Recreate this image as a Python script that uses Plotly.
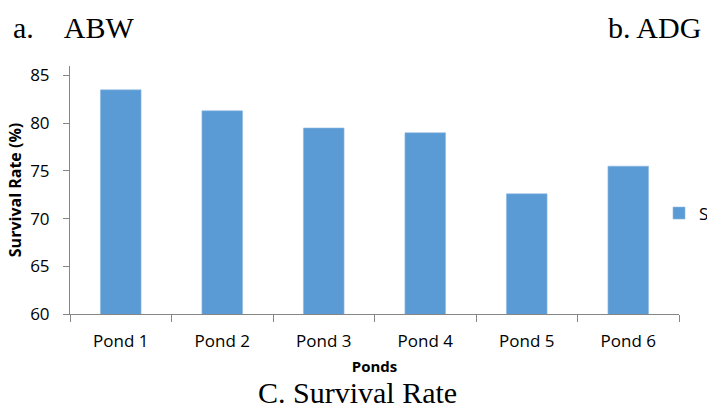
import plotly.graph_objects as go

ponds = ["Pond 1", "Pond 2", "Pond 3", "Pond 4", "Pond 5", "Pond 6"]
survival_rate = [83.5, 81.3, 79.5, 79.0, 72.6, 75.5]
y_ticks = [60, 65, 70, 75, 80, 85]
series_name = "SR"

W, H = 707, 410
L, R, T, B = 70, 28, 66, 96
pw, ph = W - L - R, H - T - B

def px(x):
    return (x - L) / pw

def py(y):
    return (H - B - y) / ph

fig = go.Figure()
fig.add_trace(go.Bar(
    x=ponds, y=survival_rate, name=series_name,
    marker=dict(color="#5B9BD5", line=dict(color="#8DB8E3", width=0.6)),
    showlegend=True,
))

axis_font = dict(family="Open Sans, Noto Sans, sans-serif", size=17, color="#000000")
title_font = dict(family="Open Sans, Noto Sans, sans-serif", size=16, color="#000000")
serif = dict(family="Liberation Serif, Times New Roman, serif", size=30, color="#000000")

fig.update_layout(
    width=W, height=H,
    margin=dict(l=L, r=R, t=T, b=B, autoexpand=False),
    paper_bgcolor="white", plot_bgcolor="white",
    bargap=0.6,
    font=axis_font,
    showlegend=True,
    legend=dict(x=px(659), y=py(213.5), xanchor="left", yanchor="middle",
                font=axis_font, bgcolor="rgba(0,0,0,0)", itemwidth=30),
    xaxis=dict(
        showline=True, linecolor="#868686", linewidth=1,
        ticks="outside", ticklen=7, tickcolor="#868686",
        tickson="boundaries", showgrid=False,
        tickfont=axis_font, ticklabelstandoff=12,
        title=dict(text="<b>Ponds</b>", font=dict(family="Open Sans, sans-serif", size=15), standoff=10),
    ),
    yaxis=dict(
        range=[60, 86], tickvals=y_ticks, ticktext=[str(v) for v in y_ticks],
        showline=True, linecolor="#868686", linewidth=1,
        ticks="outside", ticklen=6, tickcolor="#868686",
        showgrid=False, zeroline=False,
        tickfont=axis_font, ticklabelstandoff=10,
        title=dict(text="<b>Survival Rate (%)</b>", font=title_font, standoff=4),
    ),
    annotations=[
        dict(text="a.\u00a0\u00a0\u00a0\u00a0ABW", xref="paper", yref="paper", x=px(11), y=py(27),
             xanchor="left", yanchor="middle", showarrow=False, font=serif),
        dict(text="b. ADG", xref="paper", yref="paper", x=px(703), y=py(27),
             xanchor="right", yanchor="middle", showarrow=False, font=serif),
        dict(text="C. Survival Rate", xref="paper", yref="paper", x=px(357), y=py(392),
             xanchor="center", yanchor="middle", showarrow=False, font=serif),
    ],
)

fig.write_html(
    "out.html",
    config={"displayModeBar": False},
    post_script="document.body.style.margin='0';document.body.style.overflow='hidden';",
)
